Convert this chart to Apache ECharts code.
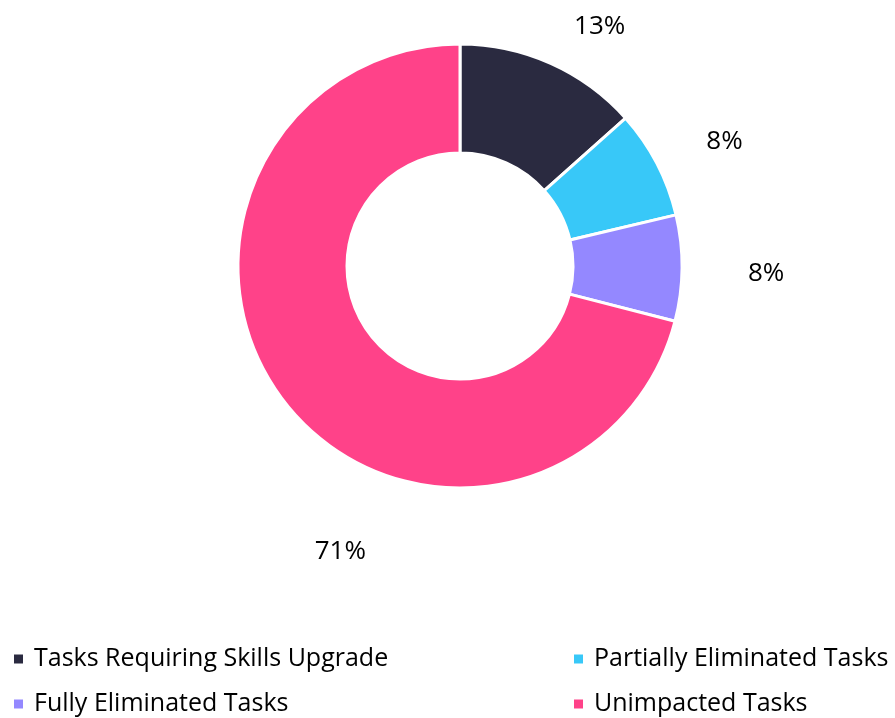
<!DOCTYPE html>
<html>
<head>
<meta charset="utf-8">
<script src="https://cdn.jsdelivr.net/npm/echarts@6/dist/echarts.min.js"></script>
<style>
  html, body { margin: 0; padding: 0; background: #fff; }
  #chart { width: 895px; height: 718px; }
</style>
</head>
<body>
<div id="chart"></div>
<script>
// values (percent of tasks)
var categories = ['Tasks Requiring Skills Upgrade', 'Partially Eliminated Tasks', 'Fully Eliminated Tasks', 'Unimpacted Tasks'];
var shares = [13.4, 7.9, 7.7, 71.0];
var colors = ['#2a2a40', '#38c8f8', '#9488ff', '#ff4289'];

var font = 'Open Sans';
// small nudges so the % labels sit where the original placed them
var labelShift = [[-4, 0], [3, -3], [15, 5], [124, 125]];

var chartDom = document.getElementById('chart');
var myChart = echarts.init(chartDom);
var option;

var pieData = categories.map(function (name, i) {
  return { name: name, value: shares[i], itemStyle: { color: colors[i] } };
});

var legendBase = {
  orient: 'vertical',
  top: 646,
  height: 72,
  padding: 0,
  itemWidth: 11,
  itemHeight: 11,
  itemGap: 19,
  icon: 'rect',
  textStyle: { fontFamily: font, fontSize: 25, color: '#000', lineHeight: 26, padding: [0, 0, 0, 5] }
};

option = {
  animation: false,
  legend: [
    Object.assign({}, legendBase, { left: 12, data: [categories[0], categories[2]] }),
    Object.assign({}, legendBase, { left: 572, data: [categories[1], categories[3]] })
  ],
  series: [
    {
      type: 'pie',
      center: [460, 266],
      radius: [113, 222],
      startAngle: 90,
      clockwise: true,
      avoidLabelOverlap: false,
      itemStyle: { borderColor: '#fff', borderWidth: 3 },
      label: {
        show: true,
        position: 'outside',
        fontFamily: font,
        fontSize: 26,
        color: '#000',
        formatter: function (p) { return Math.round(p.value) + '%'; }
      },
      labelLine: { show: false, length: 40, length2: 6 },
      labelLayout: function (p) {
        var s = labelShift[p.dataIndex];
        return { dx: s[0], dy: s[1] };
      },
      emphasis: { disabled: true },
      data: pieData
    }
  ]
};

option && myChart.setOption(option);
</script>
</body>
</html>
